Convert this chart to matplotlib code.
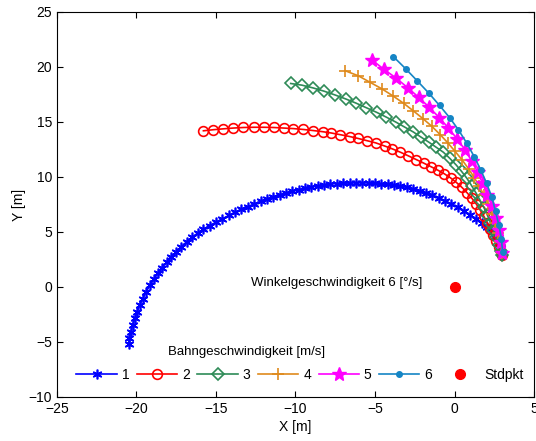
import matplotlib
matplotlib.use('Agg')
import matplotlib.pyplot as plt

plt.rcParams['font.family'] = ['Liberation Sans', 'DejaVu Sans']
plt.rcParams['font.size'] = 10

# Bahngeschwindigkeit 1 m/s
x1 = [3.0, 2.95, 2.8, 2.6, 2.35, 2.05, 1.7, 1.35, 1.0, 0.6, 0.2, -0.2, -0.6, -1.0, -1.4, -1.8,
      -2.2, -2.6, -3.0, -3.4, -3.8, -4.2, -4.6, -5.0, -5.4, -5.8, -6.2, -6.6, -7.0, -7.4, -7.8,
      -8.2, -8.6, -9.0, -9.4, -9.8, -10.2, -10.6, -11.0, -11.4, -11.8, -12.2, -12.6, -13.0,
      -13.4, -13.8, -14.2, -14.6, -15.0, -15.4, -15.8, -16.15, -16.5, -16.85, -17.2, -17.5,
      -17.8, -18.1, -18.4, -18.65, -18.9, -19.15, -19.4, -19.6, -19.8, -19.95, -20.1, -20.25,
      -20.35, -20.45, -20.5]
y1 = [3.0, 3.5, 4.0, 4.5, 5.0, 5.45, 5.85, 6.2, 6.55, 6.9, 7.25, 7.55, 7.85, 8.1, 8.35, 8.55,
      8.75, 8.9, 9.05, 9.15, 9.25, 9.32, 9.38, 9.42, 9.45, 9.46, 9.46, 9.45, 9.43, 9.4, 9.35,
      9.28, 9.2, 9.1, 8.98, 8.85, 8.7, 8.55, 8.38, 8.2, 8.0, 7.78, 7.55, 7.3, 7.05, 6.78, 6.5,
      6.2, 5.9, 5.58, 5.25, 4.9, 4.52, 4.1, 3.65, 3.2, 2.75, 2.25, 1.75, 1.25, 0.7, 0.15,
      -0.45, -1.05, -1.65, -2.25, -2.85, -3.45, -4.05, -4.65, -5.2]

# 2 m/s
x2 = [-15.79, -15.16, -14.53, -13.9, -13.27, -12.64, -12.0, -11.38, -10.75, -10.13, -9.5,
      -8.87, -8.3, -7.75, -7.2, -6.6, -6.05, -5.5, -4.95, -4.4, -3.9, -3.4, -2.9, -2.4, -1.95,
      -1.5, -1.05, -0.65, -0.25, 0.12, 0.47, 0.8, 1.1, 1.38, 1.62, 1.85, 2.05, 2.25, 2.45,
      2.62, 2.78, 2.92, 3.0]
y2 = [14.2, 14.3, 14.38, 14.45, 14.5, 14.52, 14.52, 14.5, 14.45, 14.4, 14.32, 14.22, 14.12,
      14.0, 13.85, 13.68, 13.5, 13.3, 13.1, 12.82, 12.55, 12.25, 11.92, 11.58, 11.27, 10.95,
      10.62, 10.3, 9.92, 9.5, 9.05, 8.55, 8.05, 7.52, 6.98, 6.42, 5.86, 5.3, 4.74, 4.2, 3.65,
      3.15, 2.95]

# 3 m/s
x3 = [-10.3, -9.6, -8.9, -8.2, -7.5, -6.85, -6.2, -5.55, -4.9, -4.3, -3.7, -3.15, -2.6, -2.1,
      -1.6, -1.15, -0.7, -0.3, 0.1, 0.45, 0.78, 1.08, 1.35, 1.6, 1.84, 2.06, 2.26, 2.45, 2.62,
      2.78, 2.92, 3.0]
y3 = [18.5, 18.35, 18.1, 17.8, 17.45, 17.1, 16.72, 16.3, 15.88, 15.45, 15.0, 14.55, 14.1,
      13.62, 13.15, 12.7, 12.25, 11.7, 11.1, 10.5, 9.88, 9.2, 8.55, 7.9, 7.25, 6.55, 5.85,
      5.18, 4.5, 3.85, 3.25, 2.95]

# 4 m/s
x4 = [-6.86, -6.05, -5.3, -4.55, -3.85, -3.2, -2.58, -1.98, -1.42, -0.9, -0.42, 0.04, 0.48,
      0.88, 1.24, 1.56, 1.86, 2.12, 2.36, 2.56, 2.74, 2.88, 3.0]
y4 = [19.65, 19.2, 18.6, 18.0, 17.35, 16.7, 16.0, 15.3, 14.6, 13.85, 13.1, 12.32, 11.55,
      10.75, 9.95, 9.15, 8.32, 7.5, 6.65, 5.8, 4.92, 4.05, 3.1]

# 5 m/s
x5 = [-5.2, -4.45, -3.68, -2.93, -2.26, -1.6, -0.96, -0.38, 0.17, 0.67, 1.08, 1.45, 1.77,
      2.07, 2.35, 2.58, 2.77, 2.92, 3.0]
y5 = [20.65, 19.8, 19.0, 18.1, 17.25, 16.35, 15.4, 14.45, 13.45, 12.45, 11.45, 10.45, 9.42,
      8.38, 7.32, 6.27, 5.2, 4.12, 3.1]

# 6 m/s
x6 = [-3.85, -3.08, -2.33, -1.6, -0.94, -0.31, 0.25, 0.76, 1.24, 1.66, 2.02, 2.34, 2.58,
      2.79, 2.95, 3.02]
y6 = [20.95, 19.85, 18.72, 17.6, 16.5, 15.4, 14.28, 13.1, 11.85, 10.62, 9.42, 8.2, 6.88,
      5.62, 4.4, 3.2]

stdpkt_x = [0.0]
stdpkt_y = [0.0]

labels = ['1', '2', '3', '4', '5', '6']

fig = plt.figure(figsize=(5.36, 4.41), dpi=100)
ax = fig.add_axes([0.1063, 0.0998, 0.89, 0.873])

ax.plot(x1, y1, color='#0000FF', lw=1.2, marker=(6, 2, 0), ms=7, mew=1.2, label=labels[0])
ax.plot(x2, y2, color='#FF0000', lw=1.2, marker='o', ms=7, mfc='none', mew=1.2, label=labels[1])
ax.plot(x3, y3, color='#2E8B57', lw=1.2, marker='D', ms=6.5, mfc='none', mew=1.2, label=labels[2])
ax.plot(x4, y4, color='#DF8A1C', lw=1.2, marker='+', ms=9, mew=1.2, label=labels[3])
ax.plot(x5, y5, color='#FF00FF', lw=1.2, marker='*', ms=10, mew=1.0, label=labels[4])
ax.plot(x6, y6, color='#1585C5', lw=1.2, marker='.', ms=8, label=labels[5])
ax.plot(stdpkt_x, stdpkt_y, ls='none', marker='o', color='#FF0000', ms=7, label='Stdpkt')

ax.set_xlim(-25, 5)
ax.set_ylim(-10, 25)
ax.set_xticks(range(-25, 6, 5))
ax.set_yticks(range(-10, 26, 5))
ax.tick_params(direction='in', top=True, right=True, length=4, labelsize=10)
ax.set_xlabel('X [m]', labelpad=3)
ax.set_ylabel('Y [m]', labelpad=2)

ax.text(-12.8, 0.35, 'Winkelgeschwindigkeit 6 [°/s]', fontsize=9.5, va='center', ha='left')
ax.text(-18.0, -5.9, 'Bahngeschwindigkeit [m/s]', fontsize=9.5, va='center', ha='left')

ax.legend(loc='center', bbox_to_anchor=(0.51, 0.057), ncol=7, frameon=False,
          fontsize=10, handlelength=2.9, handletextpad=0.35, columnspacing=0.55,
          borderaxespad=0, borderpad=0, numpoints=1)

fig.savefig('out.png', dpi=100)
